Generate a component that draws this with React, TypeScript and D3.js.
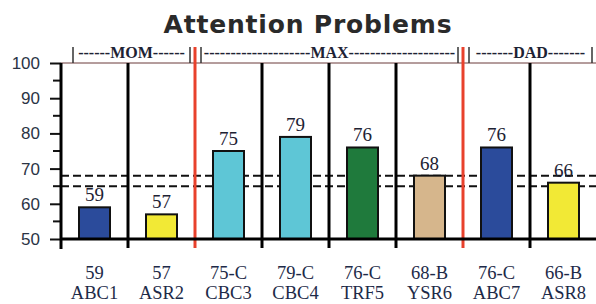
import React, { useRef, useEffect } from 'react';
import * as d3 from 'd3';

const categories = ['ABC1', 'ASR2', 'CBC3', 'CBC4', 'TRF5', 'YSR6', 'ABC7', 'ASR8'];
const scores = [59, 57, 75, 79, 76, 68, 76, 66];
const flags = ['', '', 'C', 'C', 'C', 'B', 'C', 'B'];
const barColors = ['#2b4b9b', '#f2e935', '#5ec6d6', '#5ec6d6', '#1f7a3c', '#d6b68c', '#2b4b9b', '#f2e935'];
const groupNames = ['MOM', 'MAX', 'DAD'];
const groupStart = [0, 2, 6];
const groupEnd = [2, 6, 8];
const refLines = [65, 68];
const yTicks = [50, 60, 70, 80, 90, 100];
const yMinor = [55, 65, 75, 85, 95];

const W = 596;
const H = 304;

const App = () => {
  const svgRef = useRef<SVGSVGElement>(null);

  useEffect(() => {
    document.body.style.margin = '0';
    const svg = d3.select(svgRef.current);
    svg.selectAll('*').remove();

    const left = 61, right = 597, top = 63, bottom = 239;
    const x = d3.scaleBand().domain(categories).range([left, right]).padding(0);
    const y = d3.scaleLinear().domain([50, 100]).range([bottom, top]);
    const bw = x.bandwidth();
    const barW = 31;

    svg.append('rect').attr('width', W).attr('height', H).attr('fill', '#fff');

    // title
    svg.append('text')
      .attr('x', 308).attr('y', 33)
      .attr('text-anchor', 'middle')
      .attr('font-family', 'DejaVu Sans')
      .attr('font-weight', 'bold')
      .attr('font-size', 25)
      .attr('letter-spacing', 0.8)
      .attr('fill', '#2a2a2a')
      .text('Attention Problems');

    // plot top border
    svg.append('line')
      .attr('x1', left).attr('x2', W).attr('y1', top).attr('y2', top)
      .attr('stroke', '#6b3a3a').attr('stroke-width', 1);

    // group headers: ----NAME---- sized to fit between the bracket lines
    groupNames.forEach((name, g) => {
      const x0 = x(categories[groupStart[g]])! + (g === 0 ? 12 : 6);
      const x1 = x(categories[groupEnd[g] - 1])! + bw - 5;
      const hdr = svg.append('g');
      [x0, x1].forEach((xx) => {
        hdr.append('line')
          .attr('x1', xx).attr('x2', xx).attr('y1', 47).attr('y2', top)
          .attr('stroke', '#333').attr('stroke-width', 1.5);
      });
      const t = hdr.append('text')
        .attr('x', (x0 + x1) / 2).attr('y', 58)
        .attr('text-anchor', 'middle')
        .attr('font-family', 'Liberation Serif')
        .attr('font-weight', 'bold')
        .attr('font-size', 16)
        .attr('fill', '#1d2233')
        .text('-');
      const dashW = (t.node() as SVGTextElement).getComputedTextLength() || 5;
      t.text(name);
      const nameW = (t.node() as SVGTextElement).getComputedTextLength() || 40;
      const n = Math.max(0, Math.floor((x1 - x0 - 4 - nameW) / 2 / dashW));
      t.text('-'.repeat(n) + name + '-'.repeat(n));
    });

    // dashed reference lines
    refLines.forEach((v) => {
      svg.append('line')
        .attr('x1', left).attr('x2', W).attr('y1', y(v)).attr('y2', y(v))
        .attr('stroke', '#111').attr('stroke-width', 2)
        .attr('stroke-dasharray', '8,4');
    });

    // bars
    svg.append('g').selectAll('rect')
      .data(scores)
      .join('rect')
      .attr('x', (d, i) => x(categories[i])! + (bw - barW) / 2)
      .attr('y', (d) => y(d))
      .attr('width', barW)
      .attr('height', (d) => bottom - y(d))
      .attr('fill', (d, i) => barColors[i])
      .attr('stroke', '#111')
      .attr('stroke-width', 2);

    // value labels
    svg.append('g').selectAll('text')
      .data(scores)
      .join('text')
      .attr('x', (d, i) => x(categories[i])! + bw / 2)
      .attr('y', (d) => y(d) - 6)
      .attr('text-anchor', 'middle')
      .attr('font-family', 'Liberation Serif')
      .attr('font-size', 19)
      .attr('fill', '#1d2233')
      .text((d) => d);

    // dividers between bars
    const groupEdges = groupStart.slice(1);
    categories.slice(1).forEach((c, i) => {
      const idx = i + 1;
      const xx = x(c)!;
      const red = groupEdges.includes(idx);
      svg.append('line')
        .attr('x1', xx).attr('x2', xx)
        .attr('y1', red ? 47 : top).attr('y2', 248)
        .attr('stroke', red ? '#e8412c' : '#000')
        .attr('stroke-width', 3);
    });

    // x axis line
    svg.append('line')
      .attr('x1', left).attr('x2', W).attr('y1', bottom).attr('y2', bottom)
      .attr('stroke', '#000').attr('stroke-width', 3);

    // y axis
    const yAxis = d3.axisLeft(y).tickValues(yTicks).tickSize(11).tickPadding(10)
      .tickFormat((d) => String(d));
    const ya = svg.append('g').attr('transform', `translate(${left},0)`).call(yAxis);
    ya.select('.domain').remove();
    ya.selectAll('.tick line').attr('stroke', '#111').attr('stroke-width', 2);
    ya.selectAll('.tick text')
      .attr('font-family', 'Liberation Sans')
      .attr('font-size', 17)
      .attr('fill', '#2b3445');
    yMinor.forEach((v) => {
      svg.append('line')
        .attr('x1', left - 8).attr('x2', left).attr('y1', y(v)).attr('y2', y(v))
        .attr('stroke', '#111').attr('stroke-width', 2);
    });
    svg.append('line')
      .attr('x1', left).attr('x2', left).attr('y1', top).attr('y2', 249)
      .attr('stroke', '#000').attr('stroke-width', 3);

    // x labels
    const xl = svg.append('g');
    categories.forEach((c, i) => {
      const cx = x(c)! + bw / 2;
      const t = xl.append('text')
        .attr('text-anchor', 'middle')
        .attr('font-family', 'Liberation Serif')
        .attr('font-size', 18.5)
        .attr('fill', '#1d2a48');
      t.append('tspan').attr('x', cx).attr('y', 279)
        .text(flags[i] ? `${scores[i]}-${flags[i]}` : `${scores[i]}`);
      t.append('tspan').attr('x', cx).attr('y', 299).text(c);
    });
  }, []);

  return <svg ref={svgRef} width={W} height={H} style={{ display: 'block' }}></svg>;
};

export default App;
